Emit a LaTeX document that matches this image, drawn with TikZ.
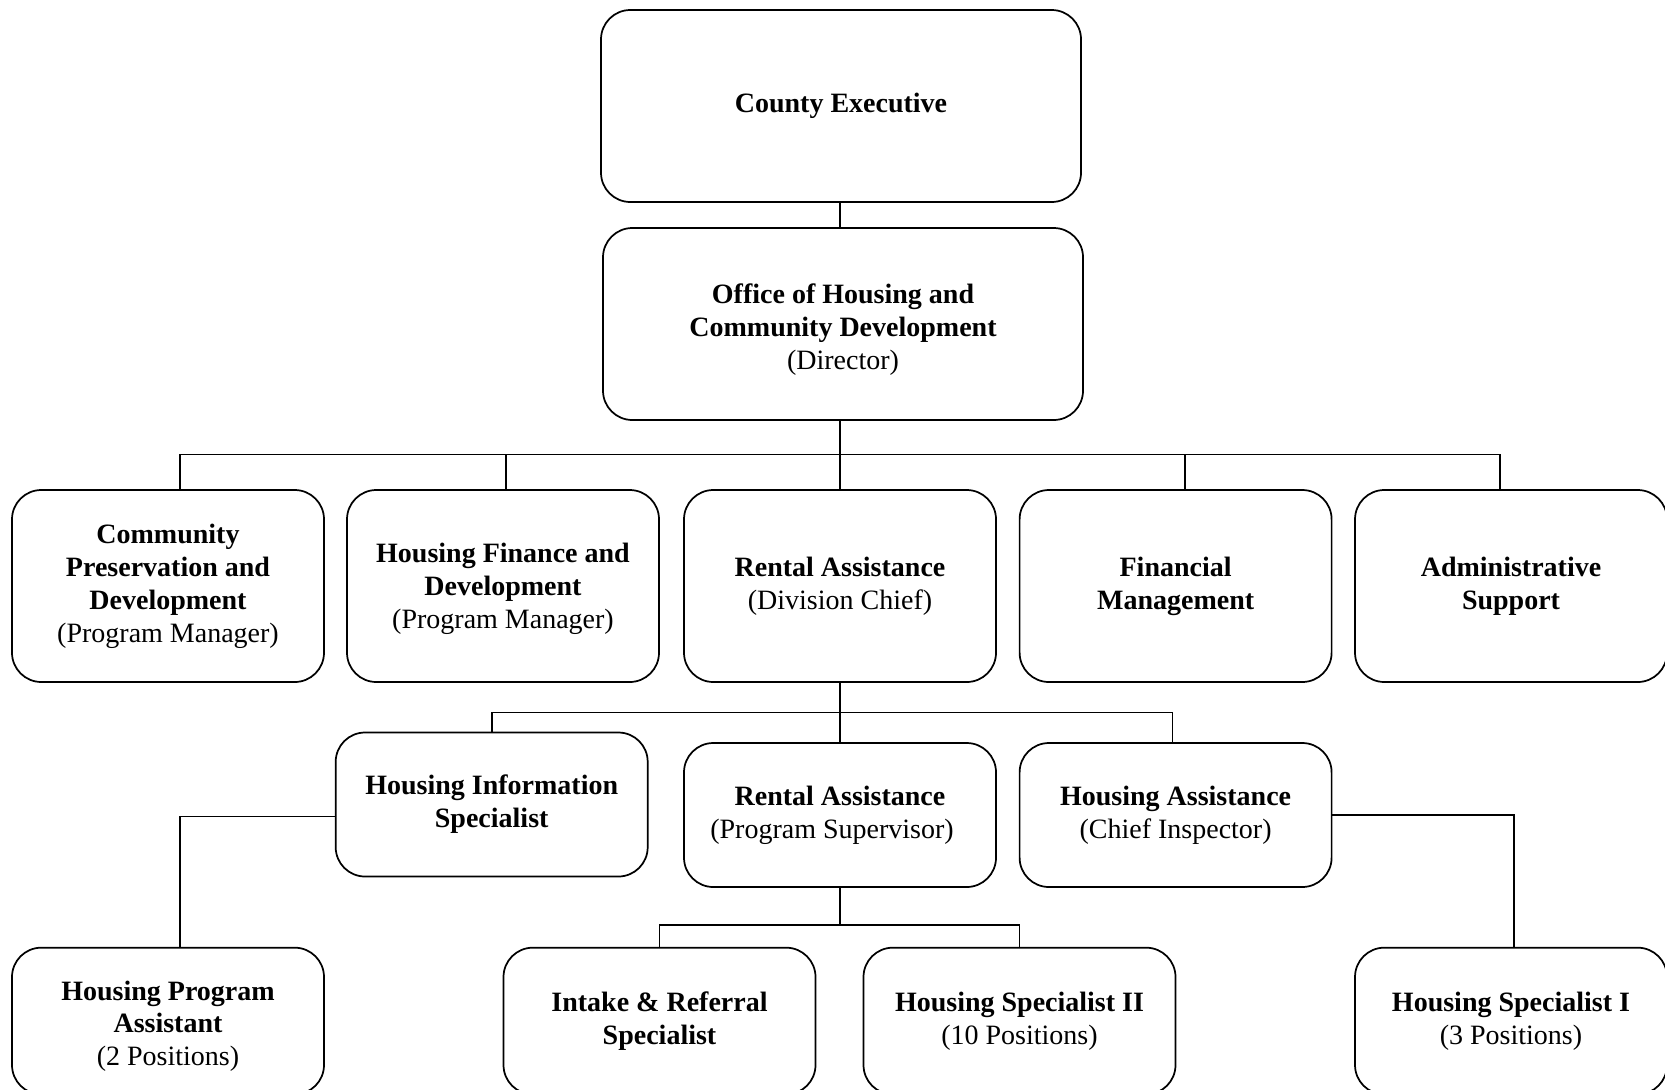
\documentclass[tikz,border=0pt]{standalone}
\usepackage{fontspec}
\setmainfont{Liberation Serif}

% lower a block of lines without changing the box size
\newcommand{\droptext}[2]{\raisebox{-#1}[\height][\depth]{\begin{tabular}{@{}c@{}}#2\end{tabular}}}

\tikzset{
  unit/.style={rectangle, rounded corners=22pt, draw=black, line width=1.3pt,
    align=center, inner sep=0pt, minimum width=234pt,
    font=\fontsize{21}{24.7}\selectfont},
  head/.style={unit, minimum width=360pt, minimum height=144pt},
  division/.style={unit, minimum height=144pt},
  section/.style={unit, minimum height=108pt},
  staff/.style={unit, minimum height=110pt},
  link/.style={line width=1.3pt}
}

\begin{document}
\begin{tikzpicture}[x=0.75pt,y=-0.75pt]
  \useasboundingbox (0,0) rectangle (1665,1089);
  \clip (0,0) rectangle (1665,1089);

  %%%%%%%%%%%%%%%%%%%%%% TOP %%%%%%%%%%%%%%%%%%%%%%
  \node[head] (exec) at (841,106) {\textbf{County Executive}};
  \node[head] (office) at (843,324)
    {\droptext{4.4pt}{\textbf{Office of Housing and}\\\textbf{Community Development}\\(Director)}};

  %%%%%%%%%%%%%%%%%%%%%% ROW 2 %%%%%%%%%%%%%%%%%%%%%%
  \node[division] (comm) at (168,586)
    {\textbf{Community}\\\textbf{Preservation and}\\\textbf{Development}\\(Program Manager)};
  \node[division] (finance) at (503,586)
    {\droptext{2.4pt}{\textbf{Housing Finance and}\\\textbf{Development}\\(Program Manager)}};
  \node[division] (rental) at (840,586)
    {\textbf{Rental Assistance}\\(Division Chief)};
  \node[division] (finmgmt) at (1175.6,586)
    {\textbf{Financial}\\\textbf{Management}};
  \node[division] (admin) at (1511,586)
    {\textbf{Administrative}\\\textbf{Support}};

  %%%%%%%%%%%%%%%%%%%%%% ROW 3 %%%%%%%%%%%%%%%%%%%%%%
  \node[section] (info) at (491.7,804.5)
    {\textbf{Housing Information}\\\textbf{Specialist}};
  \node[section] (supervisor) at (840,815)
    {\textbf{Rental Assistance}\\(Program Supervisor)\hspace*{12pt}};
  \node[section] (assist) at (1175.6,815)
    {\textbf{Housing Assistance}\\(Chief Inspector)};

  %%%%%%%%%%%%%%%%%%%%%% ROW 4 %%%%%%%%%%%%%%%%%%%%%%
  \node[staff] (progasst) at (168,1021)
    {\droptext{4pt}{\textbf{Housing Program}\\\textbf{Assistant}\\(2 Positions)}};
  \node[staff] (intake) at (659.5,1021)
    {\textbf{Intake \& Referral}\\\textbf{Specialist}};
  \node[staff] (spectwo) at (1019.5,1021)
    {\textbf{Housing Specialist II}\\(10 Positions)};
  \node[staff] (specone) at (1511,1021)
    {\textbf{Housing Specialist I}\\(3 Positions)};

  \coordinate (bus_1) at (840,454.5);
  \coordinate (bus_2) at (840,712.6);
  \coordinate (bus_3) at (840,925);

  \draw[link] (bus_1 |- exec.south) -- (bus_1 |- office.north);
  \draw[link] (bus_1 |- office.south) -- (bus_1);
  \foreach \tounit/\shift in {comm/8.8pt,finance/2.4pt,rental/0pt,finmgmt/7.2pt,admin/-8.3pt}
    \draw[link] (bus_1) -| ([xshift=\shift]\tounit.north);

  \draw[link] (rental) -- (supervisor);
  \foreach \tounit/\shift in {info/0pt,assist/-2.4pt}
    \draw[link] (bus_2) -| ([xshift=\shift]\tounit.north);

  \draw[link] (supervisor) -- (bus_3);
  \foreach \tounit in {intake,spectwo}
    \draw[link] (bus_3) -| (\tounit.north);

  \draw[link] ([yshift=-9pt]info.west) -| ([xshift=8.8pt]progasst.north);
  \draw[link] (assist.east) -| ([xshift=2.4pt]specone.north);
\end{tikzpicture}
\end{document}
